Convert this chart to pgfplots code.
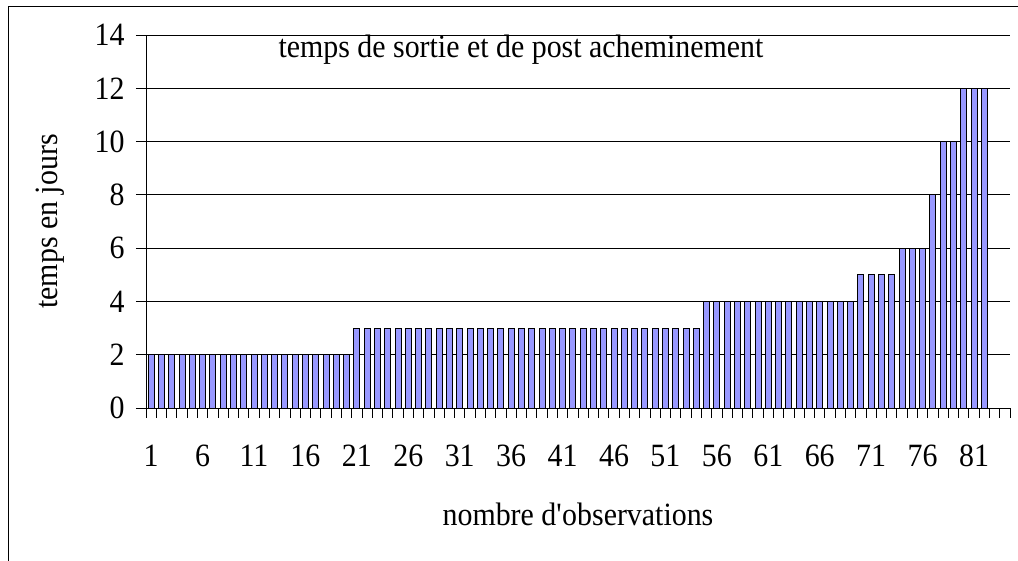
\documentclass[border=0pt]{standalone}
\usepackage{fontspec}
\setmainfont{Liberation Serif}[FakeStretch=0.92]
\usepackage{pgfplots}
\pgfplotsset{compat=1.18}
\definecolor{barfill}{HTML}{9999FF}
\newcommand\chartfont{\fontsize{32.5}{39}\selectfont}
\begin{document}
\begin{tikzpicture}[x=1pt,y=1pt]
\path[use as bounding box] (0,0) rectangle (1018,561);
\draw[line width=1pt] (8,0) -- (8,554) -- (1018,554);
\begin{axis}[
  at={(146pt,153pt)}, anchor=south west,
  scale only axis, width=864pt, height=373pt,
  xmin=0.5, xmax=84.5, ymin=0, ymax=14,
  axis x line*=bottom, axis y line*=left,
  axis line style={black, line width=0.9pt},
  tick style={black, line width=0.9pt},
  tick align=outside, major tick length=10pt,
  ytick={0,2,...,14},
  ymajorgrids, grid style={black, line width=0.9pt},
  xtick={0.5,1.5,...,84.5}, xticklabels={},
  extra x ticks={1,6,...,81},
  extra x tick style={major tick length=0pt, xticklabel style={anchor=base, yshift=-59pt}},
  /pgf/number format/assume math mode=true,
  tick label style={font=\chartfont, black},
  yticklabel style={xshift=-8pt},
  title={temps de sortie et de post acheminement},
  title style={font=\chartfont, at={(axis description cs:0.434,1)}, anchor=base, yshift=-29pt},
  xlabel={nombre d\textquotesingle observations},
  xlabel style={font=\chartfont, at={(axis description cs:0.5,0)}, anchor=base, yshift=-118pt},
  ylabel={temps en jours},
  ylabel style={font=\chartfont, at={(axis description cs:-0.1019,0.5)}, anchor=base},
]
\addplot[ybar, bar width=6pt, fill=barfill, draw=black, line width=0.9pt] coordinates {
(1,2)(2,2)(3,2)(4,2)(5,2)(6,2)(7,2)(8,2)(9,2)(10,2)
(11,2)(12,2)(13,2)(14,2)(15,2)(16,2)(17,2)(18,2)(19,2)(20,2)
(21,3)(22,3)(23,3)(24,3)(25,3)(26,3)(27,3)(28,3)(29,3)(30,3)
(31,3)(32,3)(33,3)(34,3)(35,3)(36,3)(37,3)(38,3)(39,3)(40,3)
(41,3)(42,3)(43,3)(44,3)(45,3)(46,3)(47,3)(48,3)(49,3)(50,3)
(51,3)(52,3)(53,3)(54,3)
(55,4)(56,4)(57,4)(58,4)(59,4)(60,4)(61,4)(62,4)(63,4)(64,4)
(65,4)(66,4)(67,4)(68,4)(69,4)
(70,5)(71,5)(72,5)(73,5)
(74,6)(75,6)(76,6)
(77,8)
(78,10)(79,10)
(80,12)(81,12)(82,12)
};
\end{axis}
\end{tikzpicture}
\end{document}
